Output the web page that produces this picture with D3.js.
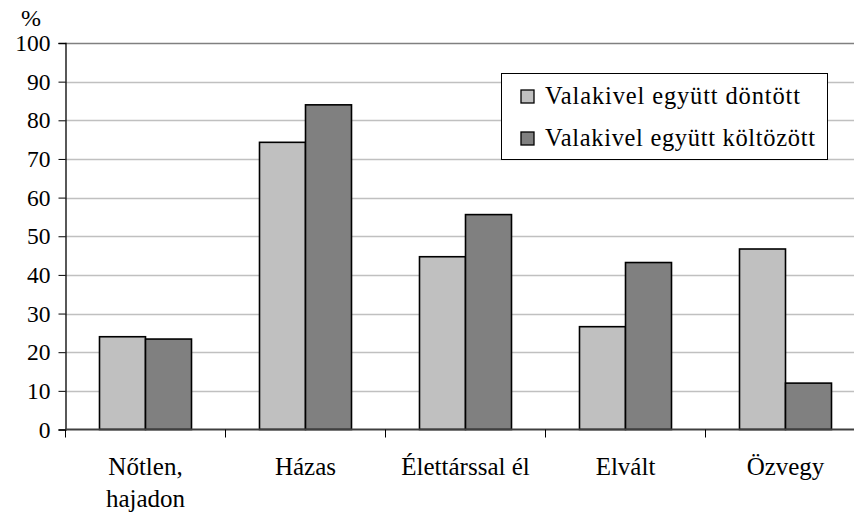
<!DOCTYPE html>
<html>
<head>
<meta charset="utf-8">
<script src="https://cdn.jsdelivr.net/npm/d3@7/dist/d3.min.js"></script>
<style>
  body { margin: 0; background: #fff; }
  text { font-family: "Liberation Serif", "Times New Roman", serif; fill: #000; }
</style>
</head>
<body>
<div id="chart"></div>
<script>
// data
const categories = ["Nőtlen,\nhajadon", "Házas", "Élettárssal él", "Elvált", "Özvegy"];
const seriesNames = ["Valakivel együtt döntött", "Valakivel együtt költözött"];
const decided = [24.0, 74.3, 44.7, 26.6, 46.7];
const moved = [23.4, 84.0, 55.6, 43.2, 12.0];
const yTicks = [0, 10, 20, 30, 40, 50, 60, 70, 80, 90, 100];
const colors = ["#c0c0c0", "#808080"];

const width = 854, height = 515;
const svg = d3.select('#chart').append('svg')
    .attr('width', width)
    .attr('height', height);

const x = d3.scaleBand().domain(categories).range([65.5, 865.5]);
const y = d3.scaleLinear().domain([0, 100]).range([429.5, 43]);
const barW = 46;
const groupOffset = (x.bandwidth() - 2 * barW) / 2;

// grid lines
svg.append('g').selectAll('line')
    .data(yTicks.filter(d => d > 0))
    .enter().append('line')
    .attr('x1', 65).attr('x2', width)
    .attr('y1', d => Math.round(y(d)) + 0.5)
    .attr('y2', d => Math.round(y(d)) + 0.5)
    .attr('stroke', d => d === 100 ? '#808080' : '#c0c0c0')
    .attr('stroke-width', 1.3);

// y axis
const yAxis = svg.append('g')
    .attr('transform', 'translate(65.5,0)')
    .call(d3.axisLeft(y).tickValues(yTicks).tickSize(7).tickPadding(8));
yAxis.select('.domain').attr('stroke', '#000').attr('stroke-width', 1.3);
yAxis.selectAll('.tick line').attr('stroke', '#000');
yAxis.selectAll('text')
    .style('font-size', '23.5px')
    .style('font-family', '"Liberation Serif", serif');

svg.append('text')
    .attr('x', 31).attr('y', 26)
    .attr('text-anchor', 'middle')
    .style('font-size', '24px')
    .text('%');

// bars
const series = [decided, moved];
series.forEach((vals, s) => {
    svg.append('g').selectAll('rect')
        .data(vals)
        .enter().append('rect')
        .attr('x', (d, i) => x(categories[i]) + groupOffset + s * barW)
        .attr('y', d => y(d))
        .attr('width', barW)
        .attr('height', d => y(0) - y(d))
        .attr('fill', colors[s])
        .attr('stroke', '#000')
        .attr('stroke-width', 1.6);
});

// x axis
svg.append('line')
    .attr('x1', 65).attr('x2', width)
    .attr('y1', y(0)).attr('y2', y(0))
    .attr('stroke', '#404040')
    .attr('stroke-width', 2);

svg.append('g').selectAll('line')
    .data(categories.concat(['end']))
    .enter().append('line')
    .attr('x1', (d, i) => 65.5 + i * x.bandwidth())
    .attr('x2', (d, i) => 65.5 + i * x.bandwidth())
    .attr('y1', y(0)).attr('y2', y(0) + 8)
    .attr('stroke', '#000');

svg.append('g').selectAll('text')
    .data(categories)
    .enter().append('text')
    .attr('text-anchor', 'middle')
    .attr('transform', d => 'translate(' + (x(d) + x.bandwidth() / 2) + ',475)')
    .style('font-size', '25px')
    .each(function(d) {
        const lines = d.split('\n');
        d3.select(this).selectAll('tspan')
            .data(lines)
            .enter().append('tspan')
            .attr('x', 0)
            .attr('dy', (l, i) => i === 0 ? 0 : 32)
            .text(l => l);
    });

// legend
const legend = svg.append('g');
legend.append('rect')
    .attr('x', 501.5).attr('y', 73.5)
    .attr('width', 326).attr('height', 86)
    .attr('fill', '#fff')
    .attr('stroke', '#000')
    .attr('stroke-width', 1);

const legendWidths = [255, 270];
seriesNames.forEach((name, i) => {
    legend.append('rect')
        .attr('x', 521).attr('y', 90 + i * 42)
        .attr('width', 13).attr('height', 13)
        .attr('fill', colors[i])
        .attr('stroke', '#000')
        .attr('stroke-width', 1.3);
    legend.append('text')
        .attr('x', 545).attr('y', 104 + i * 42)
        .attr('textLength', legendWidths[i])
        .attr('lengthAdjust', 'spacing')
        .style('font-size', '24.5px')
        .text(name);
});
</script>
</body>
</html>
